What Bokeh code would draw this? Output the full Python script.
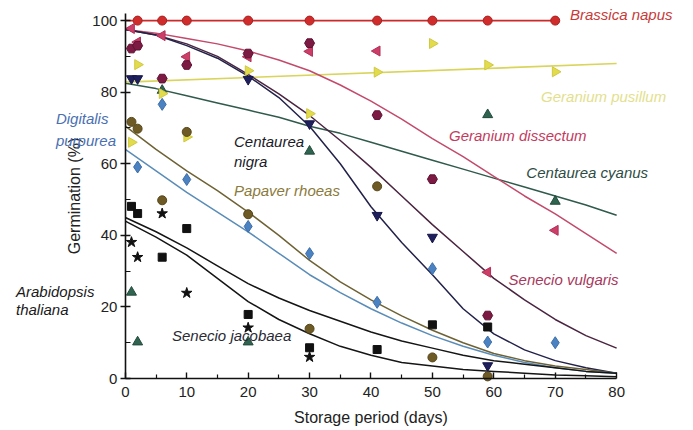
import numpy as np
from bokeh.plotting import figure
from bokeh.models import Range1d, Label, FixedTicker
from bokeh.embed import file_html
from bokeh.resources import INLINE

FONT = "Liberation Sans"

# ---------------- observed data (storage period, germination %) ----------------
brassica_days = [2, 6, 10, 20, 30, 41, 50, 59, 70]
brassica_germ = [100, 100, 100, 100, 100, 100, 100, 100, 100]

pusillum_days = [1, 2, 6, 10, 20, 30, 41, 50, 59, 70]
pusillum_germ = [66, 87.7, 79.6, 67.5, 86, 74, 85.6, 93.6, 87.6, 85.7]

dissectum_days = [1, 2, 6, 10, 20, 30, 41, 59, 70]
dissectum_germ = [97.8, 94, 95.8, 89.9, 89.9, 91.4, 91.5, 29.7, 41.4]

vulgaris_days = [1, 2, 6, 10, 20, 30, 41, 50, 59]
vulgaris_germ = [92.2, 93, 83.8, 87.6, 90.8, 93.7, 73.6, 55.7, 17.6]

cyanus_days = [1, 2, 6, 20, 30, 59, 70]
cyanus_germ = [24.1, 10.2, 80.5, 10.2, 63.5, 73.7, 49.5]

nigra_days = [1, 2, 20, 30, 41, 50, 59]
nigra_germ = [83.8, 83.8, 83.6, 71.2, 45.6, 39.5, 3.6]

digitalis_days = [2, 6, 10, 20, 30, 41, 50, 59, 70]
digitalis_germ = [59.1, 76.6, 55.6, 42.5, 34.9, 21.3, 30.7, 10.2, 10.0]

papaver_days = [1, 2, 6, 10, 20, 30, 41, 50, 59]
papaver_germ = [71.7, 69.8, 49.8, 68.9, 45.9, 13.9, 53.7, 5.9, 0.6]

jacobaea_days = [1, 2, 6, 10, 20, 30]
jacobaea_germ = [38.1, 33.9, 46.1, 23.9, 14.2, 6.0]

arabidopsis_days = [1, 2, 6, 10, 20, 30, 41, 50, 59]
arabidopsis_germ = [48.1, 46.1, 33.9, 41.9, 17.9, 8.6, 8.1, 15.0, 14.4]

# ---------------- fitted curves ----------------
fit_days = [0, 5, 10, 15, 20, 25, 30, 35, 40, 45, 50, 55, 60, 65, 70, 75, 80]
nigra_fit = [97.5, 96, 93, 89.5, 84.5, 78.5, 70.5, 60, 48, 38, 29, 19.5, 12.5, 8, 5, 3, 1.5]
vulgaris_fit = [97.5, 96, 93.5, 90, 85, 79.5, 73.5, 66.5, 59, 51, 43, 35.5, 28, 22, 16.5, 12, 8.5]
dissectum_fit = [97.5, 96.5, 95, 93.5, 91.5, 89, 86, 82, 77.5, 72.5, 67, 62, 56.5, 51, 46, 40.5, 35]
papaver_fit = [70.5, 64, 58, 52.5, 46.5, 40, 33, 27, 22, 17.5, 13.5, 10, 7, 5, 3.5, 2.5, 1.5]
digitalis_fit = [64, 58, 52, 46.5, 41, 35, 29, 24, 19.5, 15.5, 12, 9, 6.5, 4.5, 3, 2, 1.5]
arabidopsis_fit = [45, 41, 36.5, 31.5, 26.5, 22.5, 19, 16, 13, 10.5, 8.5, 6.5, 5, 4, 3, 2, 1.5]
jacobaea_fit = [44, 39.5, 34.5, 28, 21.5, 16.5, 12.5, 9, 6.5, 4.5, 3.5, 2.5, 2, 1.5, 1, 0.8, 0.5]
cyanus_fit = [82.5, 81, 79, 77, 75, 73, 70.5, 68.5, 66, 63.5, 61, 58.5, 56, 53.5, 51, 48.5, 45.6]

brassica_line_days = [0, 70]
brassica_line = [100, 100]
pusillum_line_days = [0, 80]
pusillum_line = [82.8, 88]

x_ticks = [0, 10, 20, 30, 40, 50, 60, 70, 80]
x_minor = [5, 15, 25, 35, 45, 55, 65, 75]
y_ticks = [0, 20, 40, 60, 80, 100]
y_minor = [10, 30, 50, 70, 90]

# ---------------- figure ----------------
p = figure(width=690, height=428, x_range=Range1d(-20.0, 91.7), y_range=Range1d(-13.4, 104.5),
           output_backend="svg", toolbar_location=None,
           min_border_left=2, min_border_right=2, min_border_top=4, min_border_bottom=2)
p.xgrid.visible = False
p.ygrid.visible = False
p.outline_line_color = None
p.background_fill_color = "white"

for ax in (p.xaxis[0], p.yaxis[0]):
    ax.axis_line_width = 1.6
    ax.axis_line_color = "#111111"
    ax.major_tick_line_color = "#111111"
    ax.minor_tick_line_color = "#111111"
    ax.major_tick_line_width = 1.4
    ax.minor_tick_line_width = 1.2
    ax.major_label_text_font = FONT
    ax.major_label_text_font_size = "15px"
    ax.major_label_text_color = "#222222"
    ax.axis_label_text_font = FONT
    ax.axis_label_text_font_size = "16px"
    ax.axis_label_text_font_style = "normal"
    ax.axis_label_text_color = "#222222"

p.xaxis.ticker = FixedTicker(ticks=x_ticks, minor_ticks=x_minor)
p.yaxis.ticker = FixedTicker(ticks=y_ticks, minor_ticks=y_minor)
p.xaxis.bounds = (0, 80)
p.yaxis.bounds = (0, 102)
p.yaxis.fixed_location = 0
p.xaxis.fixed_location = 0
p.xaxis.major_tick_in = 6
p.xaxis.major_tick_out = 0
p.xaxis.minor_tick_in = 4
p.xaxis.minor_tick_out = 0
p.xaxis.major_label_standoff = 8
p.xaxis.axis_label = "Storage period (days)"
p.xaxis.axis_label_standoff = 9
p.yaxis.major_tick_in = 5
p.yaxis.major_tick_out = 5
p.yaxis.minor_tick_in = 5
p.yaxis.minor_tick_out = 0
p.yaxis.major_label_standoff = 3
p.yaxis.axis_label = "Germination (%)"
p.yaxis.axis_label_standoff = 6

# ---------------- curves ----------------
p.line(fit_days, cyanus_fit, line_color="#2f5a4c", line_width=1.5)
p.line(pusillum_line_days, pusillum_line, line_color="#d9d45a", line_width=1.6)
p.line(fit_days, dissectum_fit, line_color="#c44a6c", line_width=1.5)
p.line(fit_days, vulgaris_fit, line_color="#4a2440", line_width=1.5)
p.line(fit_days, nigra_fit, line_color="#22224a", line_width=1.5)
p.line(fit_days, papaver_fit, line_color="#6e6234", line_width=1.5)
p.line(fit_days, digitalis_fit, line_color="#5a8cb8", line_width=1.5)
p.line(fit_days, arabidopsis_fit, line_color="#151515", line_width=1.5)
p.line(fit_days, jacobaea_fit, line_color="#151515", line_width=1.5)
p.line(brassica_line_days, brassica_line, line_color="#cc2a2a", line_width=1.8)

# ---------------- markers ----------------
p.scatter(brassica_days, brassica_germ, marker="circle", size=9, fill_color="#d02c2c", line_color="#a82020")
p.scatter(cyanus_days, cyanus_germ, marker="triangle", size=10, fill_color="#2e6450", line_color="#244a3c")
p.scatter(pusillum_days, pusillum_germ, marker="triangle", angle=-np.pi / 2, size=10,
          fill_color="#e2dc4c", line_color="#d0c840")
p.scatter(dissectum_days, dissectum_germ, marker="triangle", angle=np.pi / 2, size=10,
          fill_color="#cc3e68", line_color="#b03058")
p.scatter(vulgaris_days, vulgaris_germ, marker="hex", size=10, fill_color="#7c1a44", line_color="#5e1232")
p.scatter(nigra_days, nigra_germ, marker="inverted_triangle", size=10, fill_color="#1e1f5c", line_color="#16164a")
p.scatter(digitalis_days, digitalis_germ, marker="diamond", size=12, fill_color="#4b82c2", line_color="#3d6ea8")
p.scatter(papaver_days, papaver_germ, marker="circle", size=9, fill_color="#6e5a24", line_color="#56461a")
p.scatter(jacobaea_days, jacobaea_germ, marker="star", size=11, fill_color="#111111", line_color="#111111")
p.scatter(arabidopsis_days, arabidopsis_germ, marker="square", size=8, fill_color="#111111", line_color="#111111")

# ---------------- species labels ----------------
labels = [
    (72.4, 101.8, "Brassica napus", "#c83a38"),
    (67.7, 78.9, "Geranium pusillum", "#e3df8e"),
    (52.7, 68.0, "Geranium dissectum", "#c43a5e"),
    (65.3, 57.6, "Centaurea cyanus", "#2e4c44"),
    (62.4, 27.7, "Senecio vulgaris", "#a8385c"),
    (17.7, 66.3, "Centaurea", "#1a1a28"),
    (17.7, 60.7, "nigra", "#1a1a28"),
    (17.7, 52.6, "Papaver rhoeas", "#8a7a3c"),
    (-11.3, 72.7, "Digitalis", "#4a6fb2"),
    (-11.3, 66.6, "purpurea", "#4a6fb2"),
    (-17.8, 24.3, "Arabidopsis", "#1a1a1a"),
    (-17.8, 19.3, "thaliana", "#1a1a1a"),
    (7.6, 12.0, "Senecio jacobaea", "#2a2a34"),
]
for lx, ly, txt, col in labels:
    p.add_layout(Label(x=lx, y=ly, text=txt, text_color=col, text_font=FONT,
                       text_font_style="italic", text_font_size="15px",
                       text_baseline="middle", text_align="left"))

open("out.html", "w").write(file_html(p, INLINE))
